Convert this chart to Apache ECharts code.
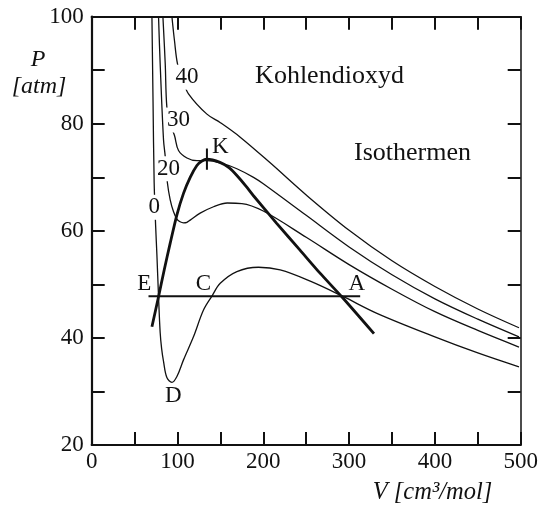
<!DOCTYPE html>
<html>
<head>
<meta charset="utf-8">
<script src="https://cdn.jsdelivr.net/npm/echarts@6/dist/echarts.min.js"></script>
<style>
  html, body { margin: 0; padding: 0; background: #fff; }
  #chart { width: 541px; height: 506px; }
</style>
</head>
<body>
<div id="chart"></div>
<script>
// isotherms of CO2, [V cm3/mol, P atm]
var iso0 = [[70.2, 100], [71.5, 84], [72.8, 69], [74.5, 61], [76, 55.5], [77.9, 47.7], [79.8, 41], [81.5, 38], [83.7, 35.6], [87.6, 32.6], [93.5, 31.7], [99.3, 32.8], [107, 35.9], [118.6, 40.2], [130.3, 45.2], [140.1, 47.8], [149.8, 50.2], [169.2, 52.4], [194.4, 53.2], [219.7, 52.7], [254.7, 50.6], [293.5, 47.7], [332.4, 44.6], [400, 40.2], [450, 37.2], [498, 34.6]];
var iso20 = [[77.9, 100], [79.8, 91.2], [83.7, 77], [85.7, 73.9], [88.3, 68.9], [91.5, 65.8], [95.3, 63.6], [99.3, 62.2], [103, 61.7], [107, 61.5], [111, 61.6], [114.8, 62], [126.4, 63.3], [142, 64.5], [158, 65.2], [175, 65.1], [200, 63.7], [250, 58.8], [300, 53.7], [350, 49.1], [400, 44.9], [450, 41.4], [498, 38.3]];
var iso30 = [[83, 100], [85.7, 91.2], [87.6, 83.1], [91.5, 80], [96.5, 77.8], [101.2, 75], [111, 73.6], [122.6, 73.1], [134.3, 73.1], [153.6, 72.5], [169.2, 71.6], [188.6, 70], [200, 68.8], [250, 62.9], [300, 57], [350, 51.8], [400, 47.3], [450, 43.5], [498, 40.2]];
var iso40 = [[93.5, 100], [96.5, 95.5], [100, 91.2], [106, 88.2], [112.8, 85.6], [134.3, 81.8], [150, 80.2], [173.1, 77.5], [208, 72.7], [250, 66.7], [300, 60.1], [350, 54.4], [400, 49.6], [450, 45.4], [498, 41.9]];
var boundary = [[70.2, 42.1], [77.9, 47.7], [84.5, 52.7], [91.5, 57.7], [99.3, 63], [107, 67], [114.8, 70], [122.6, 72.2], [128, 73], [134.3, 73.4], [149.5, 72.8], [160, 71.8], [170, 70.2], [180, 68.3], [188.3, 66.6], [215.6, 61.4], [242.8, 56.4], [266.1, 52.1], [292, 47.6], [329, 40.8]];
var tieLine = [[66.2, 47.8], [312.9, 47.8]];
var kTick = [[134.3, 75.4], [134.3, 71.4]];
var curveTags = [['40', 111, 88.7], ['30', 101.2, 80.7], ['20', 89.5, 71.6], ['0', 72.8, 64.4]];
var pointTags = [['K', 149.8, 75.7], ['E', 61.2, 50.1], ['C', 130.3, 50], ['A', 309.1, 50.1], ['D', 95, 29.1]];

var serif = 'Liberation Serif';
var ink = '#111';

function axisX(pos, labels) {
  return {
    type: 'value', position: pos, min: 0, max: 500, interval: 100,
    axisLine: { show: true, onZero: false, lineStyle: { color: ink, width: 2.2 } },
    axisTick: { show: true, inside: true, length: 13, lineStyle: { color: ink, width: 2 } },
    minorTick: { show: true, splitNumber: 2, length: 13, lineStyle: { color: ink, width: 2 } },
    splitLine: { show: false },
    axisLabel: { show: labels, color: ink, fontFamily: serif, fontSize: 23, margin: 5 }
  };
}
function axisY(pos, labels, w) {
  return {
    type: 'value', position: pos, min: 20, max: 100, interval: 20,
    axisLine: { show: true, onZero: false, lineStyle: { color: ink, width: w } },
    axisTick: { show: true, inside: true, length: 13, lineStyle: { color: ink, width: 2 } },
    minorTick: { show: true, splitNumber: 2, length: 13, lineStyle: { color: ink, width: 2 } },
    splitLine: { show: false },
    axisLabel: { show: labels, color: ink, fontFamily: serif, fontSize: 23, margin: 8 }
  };
}
function curve(data, width, smooth) {
  return {
    type: 'line', data: data, showSymbol: false, smooth: smooth, silent: true,
    lineStyle: { color: ink, width: width }
  };
}
function tags(list, bg) {
  return {
    type: 'scatter', symbolSize: 0, z: 6, silent: true,
    itemStyle: { opacity: 1 },
    data: list.map(function (t) { return { name: t[0], value: [t[1], t[2]] }; }),
    label: {
      show: true, position: 'inside', formatter: '{b}', color: ink, opacity: 1,
      fontFamily: serif, fontSize: 23,
      backgroundColor: bg ? '#fff' : 'transparent', padding: [1, 1]
    }
  };
}

var chart = echarts.init(document.getElementById('chart'), null, { renderer: 'canvas' });
chart.setOption({
  animation: false,
  backgroundColor: '#fff',
  grid: { left: 91.7, right: 20.3, top: 16.7, bottom: 61 },
  xAxis: [axisX('bottom', true), axisX('top', false)],
  yAxis: [axisY('left', true, 2.2), axisY('right', false, 1.5)],
  series: [
    curve(iso0, 1.3, 0.35), curve(iso20, 1.3, 0.35), curve(iso30, 1.3, 0.35), curve(iso40, 1.3, 0.35),
    curve(boundary, 2.8, 0.25), curve(tieLine, 2, false), curve(kTick, 2, false),
    tags(curveTags, true), tags(pointTags, false)
  ],
  graphic: [
    { type: 'text', x: 38, y: 60, style: { text: 'P', font: 'italic 24px "Liberation Serif"', fill: ink, align: 'center', verticalAlign: 'middle' } },
    { type: 'text', x: 39, y: 87, style: { text: '[atm]', font: 'italic 24px "Liberation Serif"', fill: ink, align: 'center', verticalAlign: 'middle' } },
    { type: 'text', x: 432.5, y: 493, style: { text: 'V [cm³/mol]', font: 'italic 24.5px "Liberation Serif"', fill: ink, align: 'center', verticalAlign: 'middle' } },
    { type: 'text', x: 329.5, y: 76, style: { text: 'Kohlendioxyd', font: '26px "Liberation Serif"', fill: ink, align: 'center', verticalAlign: 'middle' } },
    { type: 'text', x: 412.5, y: 153, style: { text: 'Isothermen', font: '26px "Liberation Serif"', fill: ink, align: 'center', verticalAlign: 'middle' } }
  ]
});
</script>
</body>
</html>
